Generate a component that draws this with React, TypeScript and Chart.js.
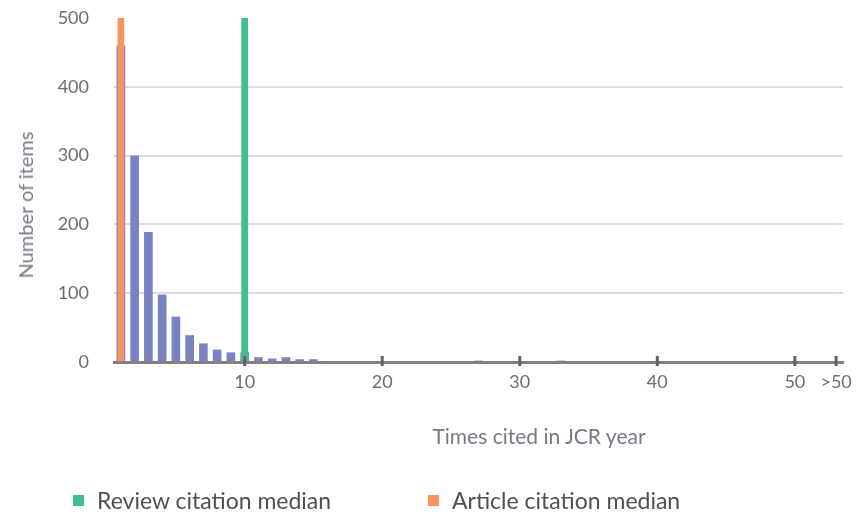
import React, { useEffect, useRef } from 'react';
import { Chart, registerables } from 'chart.js';

Chart.register(...registerables);

// Times cited in JCR year (53 = ">50" bucket)
const timesCited = [
  1, 2, 3, 4, 5, 6, 7, 8, 9, 10,
  11, 12, 13, 14, 15, 16, 17, 18, 19, 20,
  21, 22, 23, 24, 25, 26, 27, 28, 29, 30,
  31, 32, 33, 34, 35, 36, 37, 38, 39, 40,
  41, 42, 43, 44, 45, 46, 47, 48, 49, 50,
  51, 52, 53,
];
const itemCounts = [
  460, 300, 189, 98, 66, 39, 27, 18, 14, 14,
  7, 5, 7, 4, 4, 0, 0, 0, 0, 0,
  0, 0, 0, 0, 0, 0, 2, 0, 0, 0,
  0, 0, 2, 0, 0, 0, 0, 0, 0, 0,
  0, 0, 0, 0, 0, 0, 0, 0, 0, 0,
  0, 0, 0,
];
const xTickValues = [10, 20, 30, 40, 50, 53];
const xTickLabels = ['10', '20', '30', '40', '50', '>50'];
const yMin = 0;
const yMax = 500;
const yStep = 100;

const xTitle = 'Times cited in JCR year';
const yTitle = 'Number of items';
const medianLabels = ['Review citation median', 'Article citation median'];
const medianValues = [10, 1];
const medianColors = ['#3fbf8b', '#f5955f'];
const barColor = '#7b82c2';

const FONT = 'Lato';

const tickMarkPlugin = {
  id: 'xTickMarks',
  afterDatasetsDraw(chart: any) {
    const xs = chart.scales.x;
    const { bottom } = chart.chartArea;
    const ctx = chart.ctx;
    ctx.save();
    ctx.strokeStyle = '#626262';
    ctx.lineWidth = 3;
    xTickValues.forEach((v) => {
      const px = xs.getPixelForValue(v);
      ctx.beginPath();
      ctx.moveTo(px, bottom - 6);
      ctx.lineTo(px, bottom + 4);
      ctx.stroke();
    });
    ctx.restore();
  },
};

export default function App() {
  const ref = useRef<HTMLCanvasElement | null>(null);

  useEffect(() => {
    if (!ref.current) return;
    const chart = new Chart(ref.current, {
      type: 'bar',
      data: {
        datasets: [
          ...medianLabels.map((label, i) => ({
            label,
            data: [{ x: medianValues[i], y: yMax }],
            backgroundColor: medianColors[i],
            barThickness: 6,
            grouped: false,
          })),
          {
            label: yTitle,
            data: timesCited.map((t, i) => ({ x: t, y: itemCounts[i] })),
            backgroundColor: barColor,
            barPercentage: 0.9,
            categoryPercentage: 0.7,
            grouped: false,
          },
        ],
      },
      options: {
        animation: false,
        responsive: false,
        layout: { padding: { left: 8, right: 21, top: 18, bottom: 112 } },
        plugins: {
          legend: { display: false },
          tooltip: { enabled: false },
        },
        scales: {
          x: {
            type: 'linear',
            min: 0.5,
            max: 53.5,
            offset: false,
            afterBuildTicks: (scale: any) => {
              scale.ticks = xTickValues.map((v) => ({ value: v }));
            },
            afterFit: (scale: any) => {
              scale.height = 40;
            },
            grid: { display: false, drawTicks: false, offset: false },
            border: { display: true, color: '#808080', width: 3 },
            ticks: {
              autoSkip: false,
              maxRotation: 0,
              padding: 9,
              color: '#6d6d6d',
              font: { family: FONT, size: 18 },
              callback: (v: any) => {
                const idx = xTickValues.indexOf(Number(v));
                return idx >= 0 ? xTickLabels[idx] : '';
              },
            },
          },
          y: {
            min: yMin,
            max: yMax,
            afterFit: (scale: any) => {
              scale.width = 106;
            },
            border: { display: false },
            grid: {
              drawTicks: true,
              tickLength: 25,
              tickColor: 'rgba(0,0,0,0)',
              lineWidth: 2,
              color: (ctx: any) =>
                ctx.tick && (ctx.tick.value === yMin || ctx.tick.value === yMax)
                  ? 'rgba(0,0,0,0)'
                  : '#dadaee',
            },
            ticks: {
              stepSize: yStep,
              padding: 0,
              color: '#6d6d6d',
              font: { family: FONT, size: 18 },
            },
          },
        },
      },
      plugins: [tickMarkPlugin],
    } as any);
    return () => chart.destroy();
  }, []);

  return (
    <div style={{ position: 'fixed', left: 0, top: 0, width: 864, height: 514, background: '#fff', overflow: 'hidden' }}>
      <canvas ref={ref} width={864} height={514} style={{ position: 'absolute', left: 0, top: 0 }} />
      <div
        style={{
          position: 'absolute',
          left: 25,
          top: 205,
          transform: 'translate(-50%, -50%) rotate(-90deg)',
          whiteSpace: 'nowrap',
          fontFamily: FONT,
          fontSize: 20,
          lineHeight: '24px',
          color: '#767886',
        }}
      >
        {yTitle}
      </div>
      <div
        style={{
          position: 'absolute',
          left: 539,
          top: 424,
          transform: 'translateX(-50%)',
          whiteSpace: 'nowrap',
          fontFamily: FONT,
          fontSize: 21,
          lineHeight: '24px',
          color: '#767886',
        }}
      >
        {xTitle}
      </div>
      {medianLabels.map((label, i) => (
        <div
          key={label}
          style={{
            position: 'absolute',
            left: 73 + i * 355,
            top: 486,
            display: 'flex',
            alignItems: 'center',
            whiteSpace: 'nowrap',
            fontFamily: FONT,
            fontSize: 23,
            lineHeight: '28px',
            color: '#505050',
          }}
        >
          <span style={{ display: 'inline-block', width: 11, height: 11, background: medianColors[i], marginRight: 13 }} />
          {label}
        </div>
      ))}
    </div>
  );
}
